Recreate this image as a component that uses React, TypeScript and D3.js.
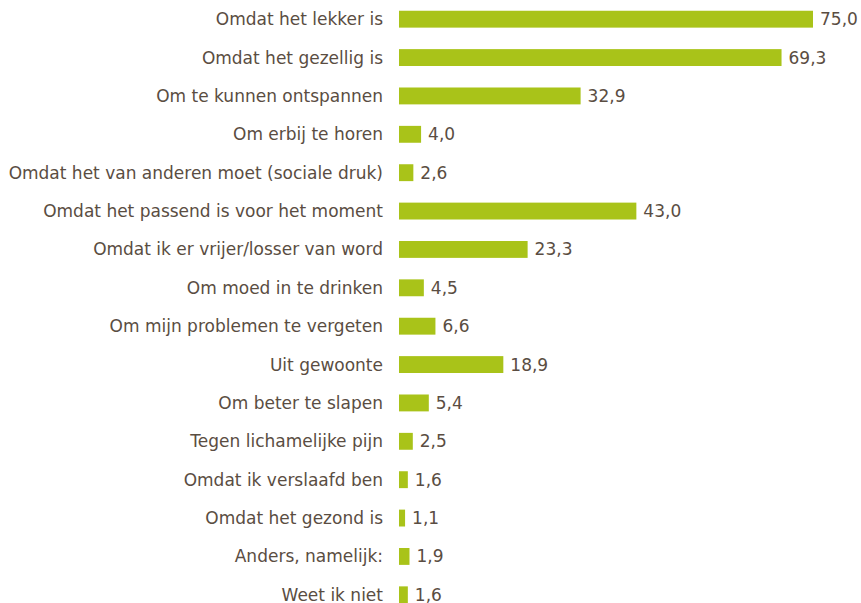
import React from "react";
import * as d3 from "d3";

const categories = [
  "Omdat het lekker is",
  "Omdat het gezellig is",
  "Om te kunnen ontspannen",
  "Om erbij te horen",
  "Omdat het van anderen moet (sociale druk)",
  "Omdat het passend is voor het moment",
  "Omdat ik er vrijer/losser van word",
  "Om moed in te drinken",
  "Om mijn problemen te vergeten",
  "Uit gewoonte",
  "Om beter te slapen",
  "Tegen lichamelijke pijn",
  "Omdat ik verslaafd ben",
  "Omdat het gezond is",
  "Anders, namelijk:",
  "Weet ik niet",
];
const values = [75.0, 69.3, 32.9, 4.0, 2.6, 43.0, 23.3, 4.5, 6.6, 18.9, 5.4, 2.5, 1.6, 1.1, 1.9, 1.6];

const W = 861;
const H = 603;
const barColor = "#a9c319";
const textColor = "#5a4d42";

export default function App() {
  const x = d3.scaleLinear().domain([0, 75]).range([399, 813]);
  const y = d3
    .scaleBand<number>()
    .domain(d3.range(categories.length))
    .range([0, 614])
    .paddingInner(0.56)
    .paddingOuter(0.28);
  const fmt = (v: number) => v.toFixed(1).replace(".", ",");
  return (
    <svg
      width={W}
      height={H}
      style={{ position: "absolute", left: 0, top: 0 }}
      fontFamily="Verdana, 'DejaVu Sans', sans-serif"
      fontSize={17}
    >
      <rect width={W} height={H} fill="#fff" />
      {categories.map((c, i) => {
        const yy = y(i)!;
        const cy = yy + y.bandwidth() / 2;
        return (
          <g key={c}>
            <text x={383} y={cy} dy="0.35em" textAnchor="end" fill={textColor}>
              {c}
            </text>
            <rect x={x(0)} y={yy} width={x(values[i]) - x(0)} height={y.bandwidth()} fill={barColor} />
            <text x={x(values[i]) + 7} y={cy} dy="0.35em" fill={textColor}>
              {fmt(values[i])}
            </text>
          </g>
        );
      })}
    </svg>
  );
}
